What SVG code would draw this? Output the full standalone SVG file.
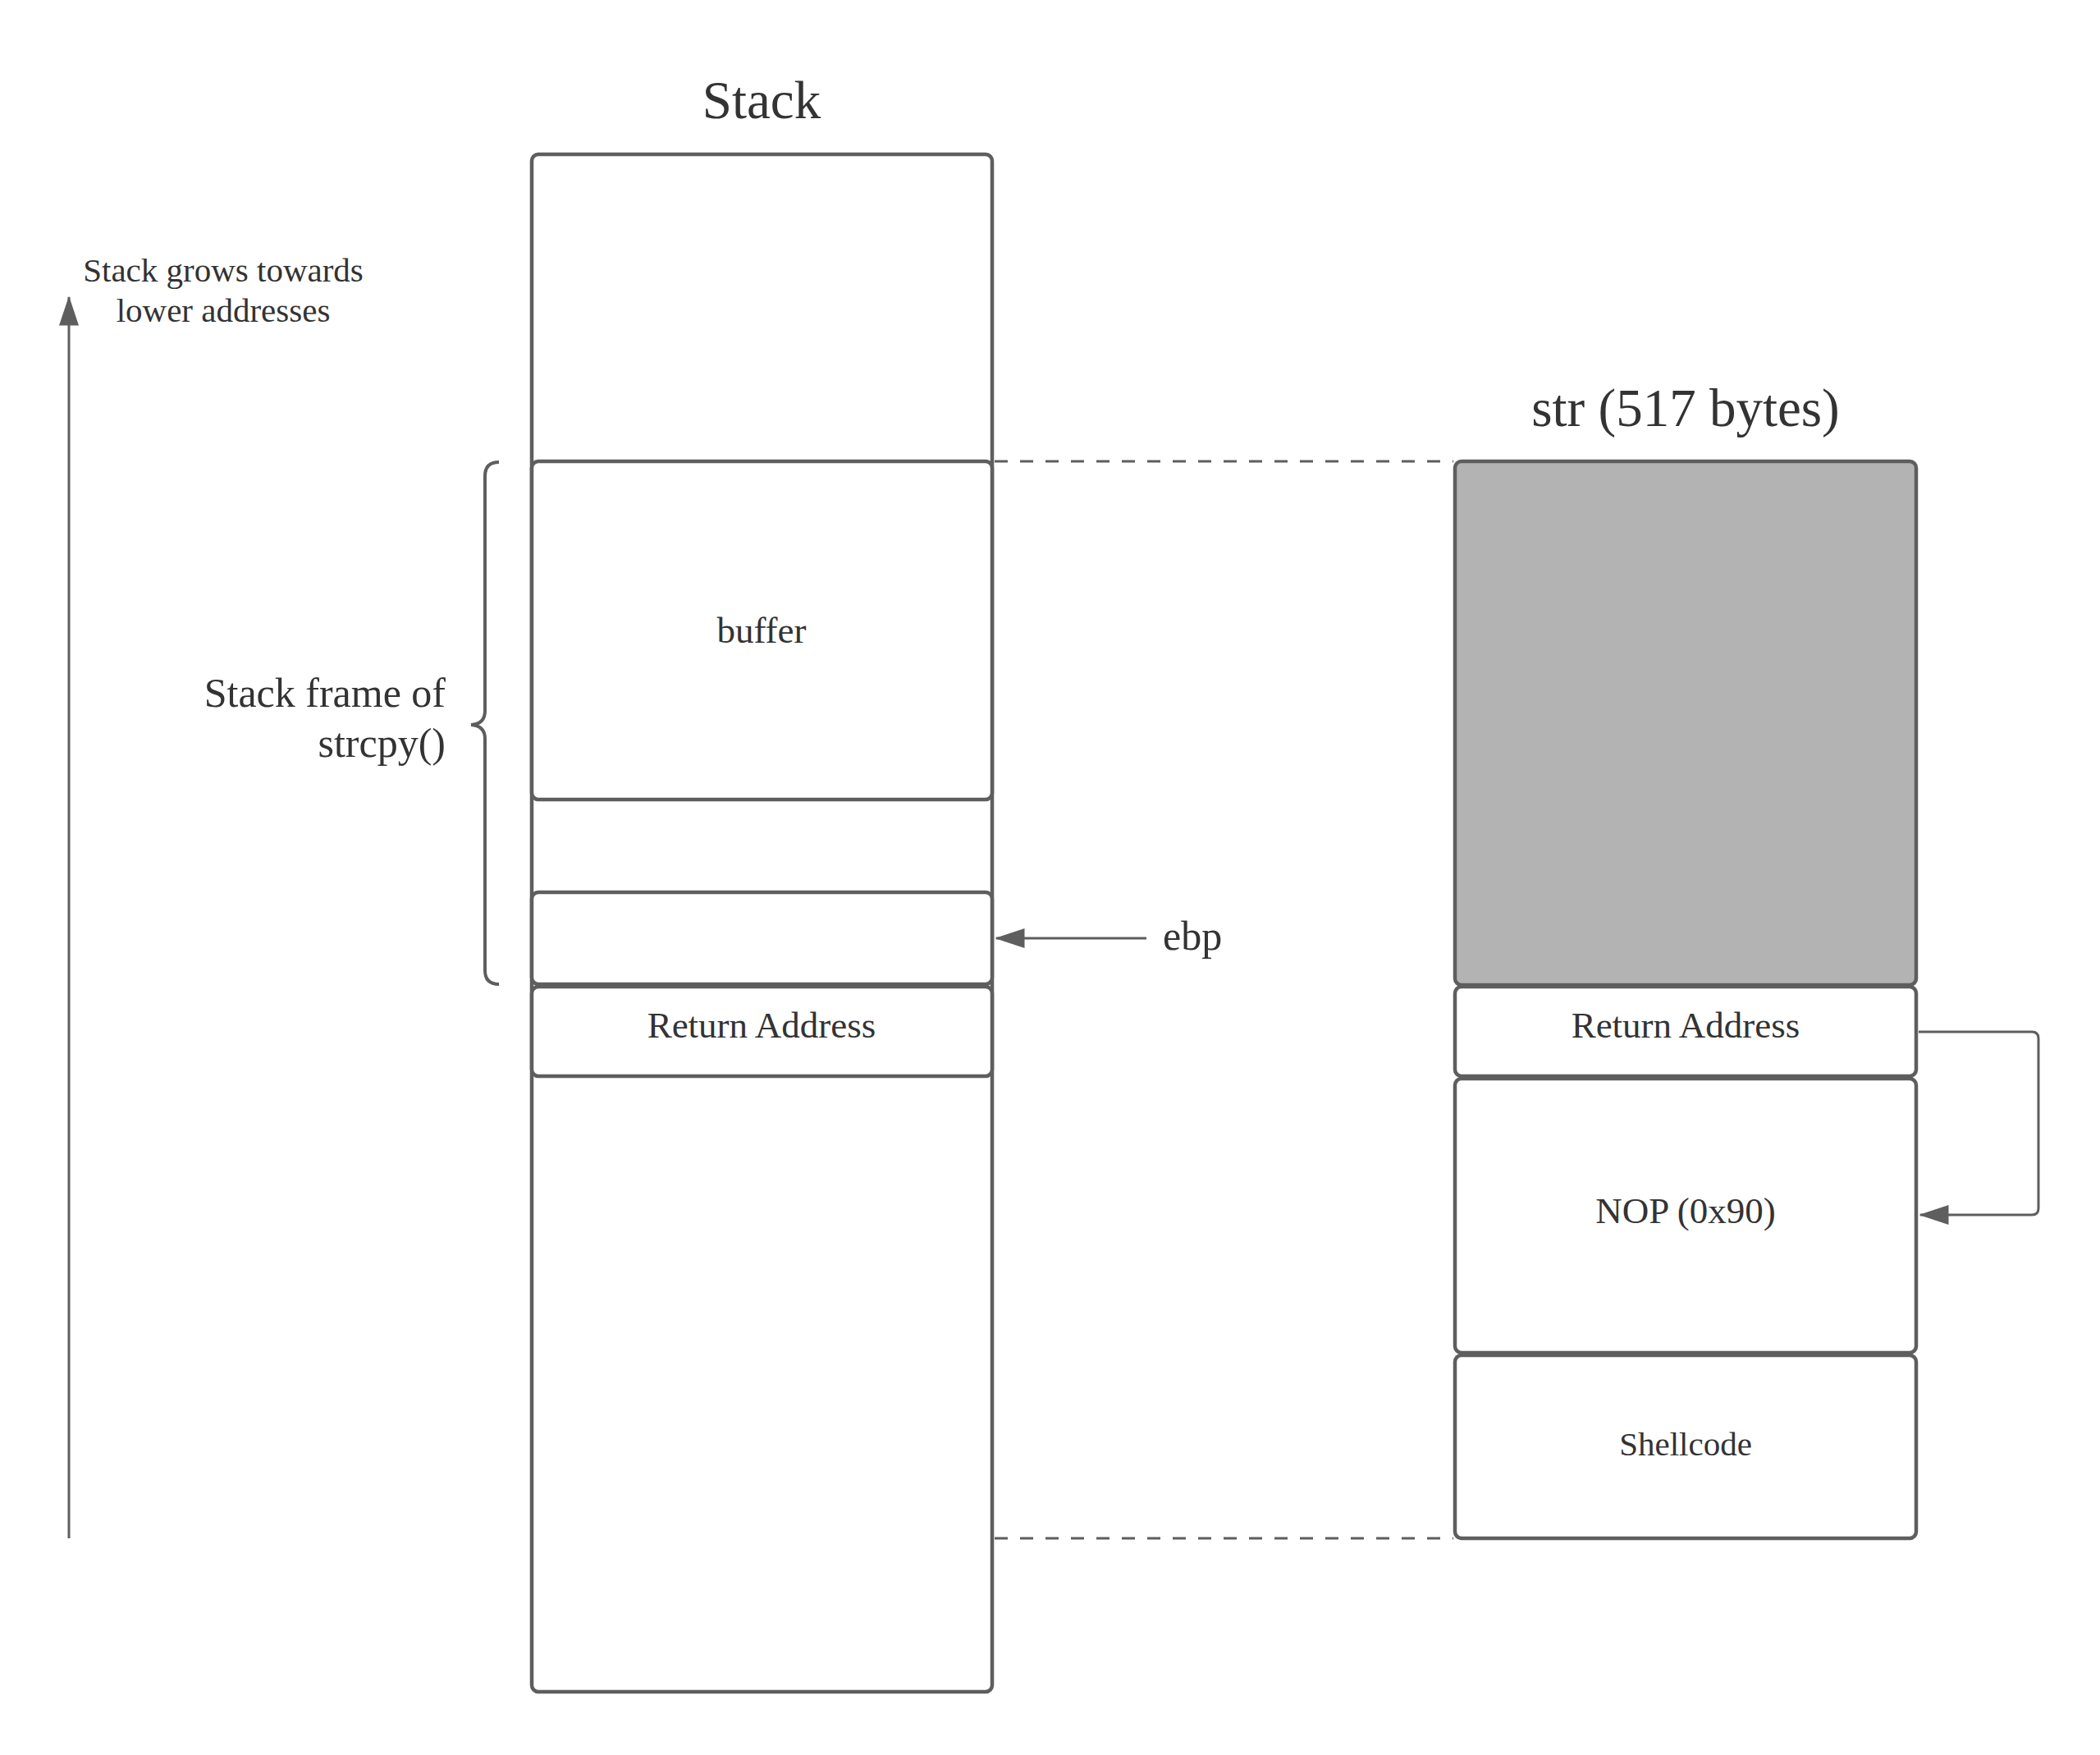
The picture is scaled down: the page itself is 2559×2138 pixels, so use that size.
<svg xmlns="http://www.w3.org/2000/svg" width="2559" height="2138" viewBox="0 0 2559 2138">
<style>
.box{fill:#ffffff;stroke:#5e5e5e;stroke-width:4.5}
.gray{fill:#b3b3b3;stroke:#5e5e5e;stroke-width:4.5}
.t{font-family:"Liberation Serif","Times New Roman",serif;fill:#333333}
.c{text-anchor:middle}
.ln{fill:none;stroke:#5e5e5e;stroke-width:3}
.dash{fill:none;stroke:#5e5e5e;stroke-width:3;stroke-dasharray:16 15}
</style>
<defs>
<marker id="ah" markerWidth="12" markerHeight="8" refX="11.5" refY="4" orient="auto" markerUnits="strokeWidth">
<path d="M0,0 L12,4 L0,8 Z" fill="#5e5e5e"/>
</marker>
</defs>
<rect width="2559" height="2138" fill="#ffffff"/>

<g id="title-stack"><text class="t c" x="928" y="144" font-size="65">Stack</text></g>
<g id="title-str"><text class="t c" x="2054" y="519" font-size="65">str (517 bytes)</text></g>

<g id="stack-outer"><rect class="box" x="648" y="188" width="561" height="1873" rx="8"/></g>
<g id="stack-buffer"><rect class="box" x="648" y="562" width="561" height="412" rx="8"/><text class="t c" x="928" y="783" font-size="45">buffer</text></g>
<g id="stack-ebp-slot"><rect class="box" x="648" y="1087" width="561" height="112" rx="8"/></g>
<g id="stack-ret"><rect class="box" x="648" y="1202" width="561" height="109" rx="8"/><text class="t c" x="928" y="1264" font-size="45">Return Address</text></g>

<g id="str-fill"><rect class="gray" x="1773" y="562" width="562" height="638" rx="8"/></g>
<g id="str-ret"><rect class="box" x="1773" y="1202" width="562" height="109" rx="8"/><text class="t c" x="2054" y="1264" font-size="45">Return Address</text></g>
<g id="str-nop"><rect class="box" x="1773" y="1314" width="562" height="334" rx="8"/><text class="t c" x="2054" y="1490" font-size="45">NOP (0x90)</text></g>
<g id="str-shellcode"><rect class="box" x="1773" y="1651" width="562" height="223" rx="8"/><text class="t c" x="2054" y="1773" font-size="41">Shellcode</text></g>

<g id="label-grows"><text class="t c" x="272" y="343" font-size="41">Stack grows towards</text><text class="t c" x="272" y="392" font-size="41">lower addresses</text></g>
<g id="label-frame"><text class="t" x="543" y="861" font-size="50" text-anchor="end">Stack frame of</text><text class="t" x="543" y="922" font-size="50" text-anchor="end">strcpy()</text></g>
<g id="label-ebp"><text class="t" x="1417" y="1157" font-size="50">ebp</text></g>

<g id="connectors">
<path class="ln" d="M84,1874 L84,362" marker-end="url(#ah)"/>
<path class="ln" d="M1397,1143 L1214,1143" marker-end="url(#ah)"/>
<path class="ln" d="M2338,1257 L2476,1257 Q2484,1257 2484,1265 L2484,1472 Q2484,1480 2476,1480 L2340,1480" marker-end="url(#ah)"/>
<path class="dash" d="M1212,562 L1771,562"/>
<path class="dash" d="M1212,1874 L1771,1874"/>
<path class="ln" style="stroke-width:4" d="M608,563 Q591,563 591,580 L591,866 Q591,882 574,883 Q591,884 591,900 L591,1182 Q591,1199 608,1199"/>
</g>
</svg>
